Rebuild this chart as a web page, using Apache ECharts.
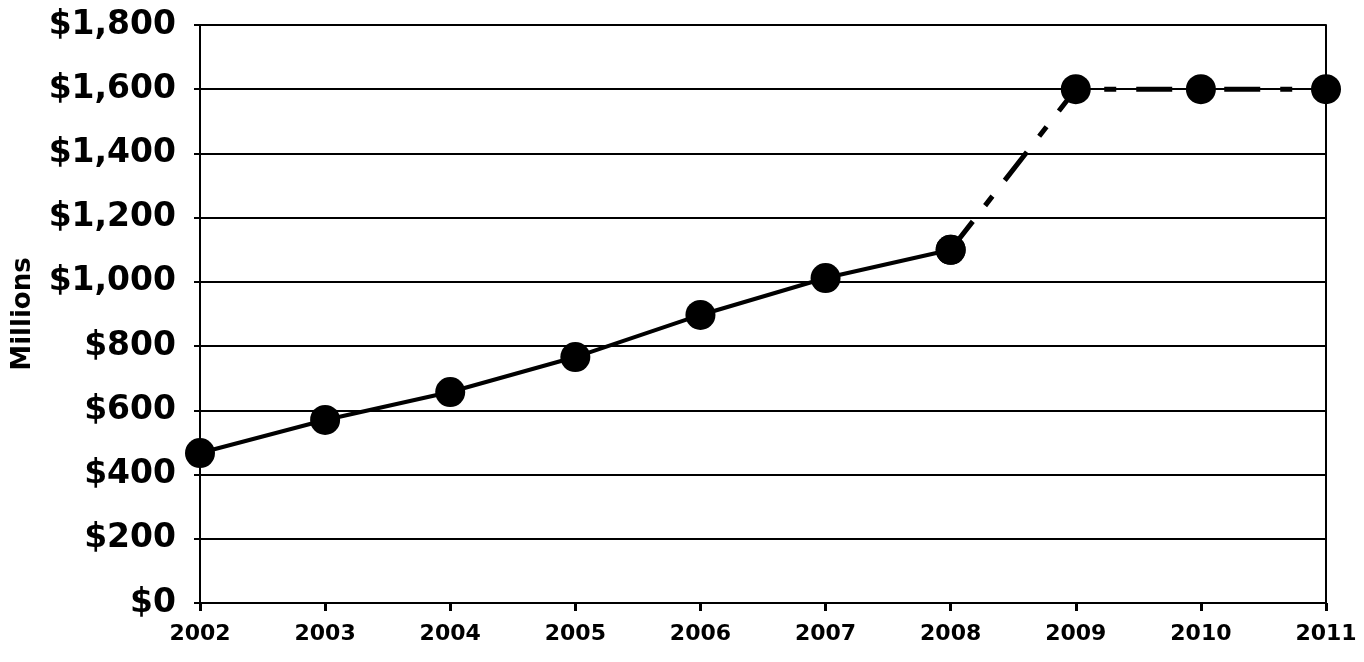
<!DOCTYPE html>
<html><head><meta charset="utf-8">
<script src="https://cdn.jsdelivr.net/npm/echarts@6/dist/echarts.min.js"></script>
<style>html,body{margin:0;background:#fff}#c{width:1364px;height:662px}</style>
</head><body><div id="c"></div>
<script>
const years = ['2002','2003','2004','2005','2006','2007','2008','2009','2010','2011'];
const actual = [467, 570, 657, 766, 897, 1012, 1100, null, null, null];
const projected = [null, null, null, null, null, null, 1100, 1600, 1600, 1600];
const chart = echarts.init(document.getElementById('c'));
const font = 'DejaVu Sans, Arial, sans-serif';
chart.setOption({
  animation:false,
  grid:{left:200,right:38,top:25,bottom:59},
  xAxis:{type:'category',data:years,boundaryGap:false,
    axisLine:{lineStyle:{color:'#000',width:2}},
    axisTick:{show:true,length:8,lineStyle:{color:'#000',width:3}},
    axisLabel:{color:'#000',fontFamily:font,fontWeight:'bold',fontSize:22,margin:20}},
  yAxis:[{type:'value',min:0,max:1800,interval:200,name:'Millions',nameLocation:'middle',nameGap:164,
    nameTextStyle:{color:'#000',fontFamily:font,fontWeight:'bold',fontSize:26},
    axisLine:{show:true,lineStyle:{color:'#000',width:2}},
    axisTick:{show:true,length:6,lineStyle:{color:'#000',width:2}},
    splitLine:{lineStyle:{color:'#000',width:2}},
    axisLabel:{color:'#000',fontFamily:font,fontWeight:'bold',fontSize:33,margin:24,
      formatter:v=>'$'+v.toLocaleString('en-US')}},
    {type:'value',min:0,max:1800,interval:200,position:'right',
     axisLine:{show:true,lineStyle:{color:'#000',width:2}},axisTick:{show:false},
     axisLabel:{show:false},splitLine:{show:false}}],
  series:[
    {type:'line',data:actual,symbol:'circle',symbolSize:30,itemStyle:{color:'#000'},
     lineStyle:{color:'#000',width:4},z:3},
    {type:'line',data:projected,symbol:'circle',symbolSize:30,itemStyle:{color:'#000'},
     lineStyle:{color:'#000',width:5,type:[36,20,12,20]},z:3}
  ]
});
</script></body></html>
